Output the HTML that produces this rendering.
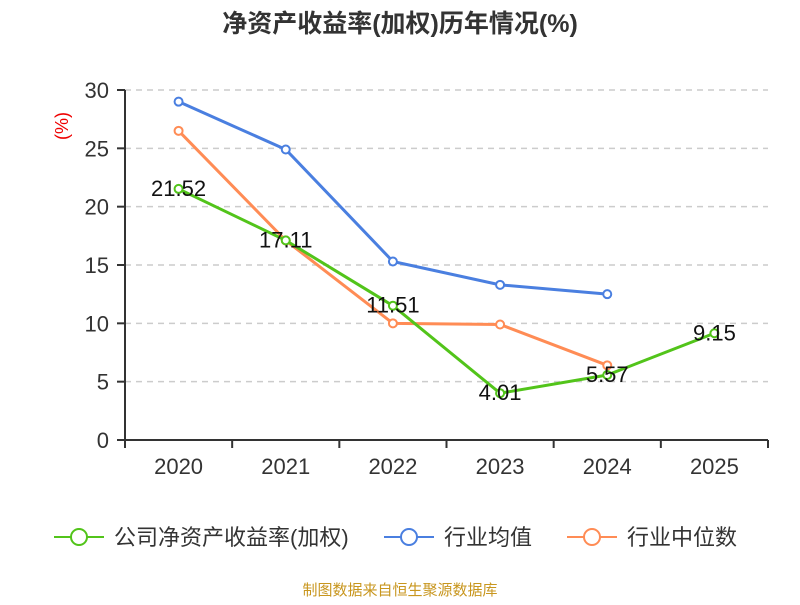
<!DOCTYPE html>
<html><head><meta charset="utf-8"><style>
body{margin:0;background:#fff;width:800px;height:600px;overflow:hidden}
svg{font-family:"Liberation Sans","Noto Sans CJK SC",sans-serif}
</style></head><body>
<svg id="c" width="800" height="600">
<text x="400" y="32" text-anchor="middle" font-size="25" font-weight="bold" fill="#333">净资产收益率(加权)历年情况(%)</text>
<text transform="translate(68,126) rotate(-90)" text-anchor="middle" font-size="18" fill="#e00">(%)</text>
<g id="grid"></g><g id="series"></g>
<g>
<g><line x1="54" y1="537" x2="104" y2="537" stroke="#52c41a" stroke-width="2"/><circle cx="79" cy="537" r="8" fill="#fff" stroke="#52c41a" stroke-width="2"/><text x="114" y="545" font-size="22" fill="#333">公司净资产收益率(加权)</text></g>
<g><line x1="384" y1="537" x2="434" y2="537" stroke="#4a7fe0" stroke-width="2"/><circle cx="409" cy="537" r="8" fill="#fff" stroke="#4a7fe0" stroke-width="2"/><text x="444" y="545" font-size="22" fill="#333">行业均值</text></g>
<g><line x1="567" y1="537" x2="617" y2="537" stroke="#ff8c55" stroke-width="2"/><circle cx="592" cy="537" r="8" fill="#fff" stroke="#ff8c55" stroke-width="2"/><text x="627" y="545" font-size="22" fill="#333">行业中位数</text></g>
</g>
<text x="400" y="595" text-anchor="middle" font-size="15" fill="#c8961e">制图数据来自恒生聚源数据库</text>
</svg>
<script>
const categories=["2020","2021","2022","2023","2024","2025"];
const companyValues=[21.52,17.11,11.51,4.01,5.57,9.15];
const industryAvg=[29.0,24.9,15.3,13.3,12.5,null];
const industryMedian=[26.5,17.1,10.0,9.9,6.4,null];
const yTicks=[0,5,10,15,20,25,30];
const NS="http://www.w3.org/2000/svg";
const L=125,R=768,T=90,B=440,yMax=30;
const bw=(R-L)/categories.length;
const xs=i=>L+bw*(i+0.5);
const ys=v=>B-(v/yMax)*(B-T);
function mk(tag,attrs,parent){const e=document.createElementNS(NS,tag);for(const k in attrs)e.setAttribute(k,attrs[k]);parent.appendChild(e);return e;}
const g=document.getElementById('grid'),s=document.getElementById('series');
yTicks.forEach(v=>{
 if(v>0){const gl=mk('line',{x1:L,x2:R,y1:ys(v),y2:ys(v),stroke:'#ccc','stroke-dasharray':'6,5','stroke-width':1.5},g);
 
 }
 const tk=mk('line',{x1:L-8,x2:L,y1:ys(v),y2:ys(v),stroke:'#333','stroke-width':2},g);
 
 
 const t=mk('text',{x:L-16,y:ys(v)+8,'text-anchor':'end','font-size':22,fill:'#333'},g);t.textContent=v;
 
 
});
const ya=mk('line',{x1:L,x2:L,y1:T,y2:B,stroke:'#333','stroke-width':2},g);


const xa=mk('line',{x1:L,x2:R,y1:B,y2:B,stroke:'#333','stroke-width':2},g);


for(let i=0;i<=categories.length;i++){const tk=mk('line',{x1:L+bw*i,x2:L+bw*i,y1:B,y2:B+8,stroke:'#333','stroke-width':2},g);
 
 }
categories.forEach((c,i)=>{const t=mk('text',{x:xs(i),y:B+34,'text-anchor':'middle','font-size':22,fill:'#333'},g);t.textContent=c;
 
 });
function drawSeries(vals,color,name,labels){
 const grp=mk('g',{},s);
 
 
 const pts=vals.map((v,i)=>v==null?null:[xs(i),ys(v)]).filter(p=>p);
 mk('polyline',{points:pts.map(p=>p.join(',')).join(' '),fill:'none',stroke:color,'stroke-width':3},grp);
 vals.forEach((v,i)=>{if(v==null)return;
  const c=mk('circle',{cx:xs(i),cy:ys(v),r:4,fill:'#fff',stroke:color,'stroke-width':2},grp);
  
  
  if(labels){const t=mk('text',{x:xs(i),y:ys(v)+7,'text-anchor':'middle','font-size':22,fill:'#111'},grp);t.textContent=v.toFixed(2);
   
   }
 });
}
drawSeries(industryAvg,'#4a7fe0','industry-avg-series',false);
drawSeries(industryMedian,'#ff8c55','industry-median-series',false);
drawSeries(companyValues,'#52c41a','company-roe-series',true);
</script>
</body></html>
